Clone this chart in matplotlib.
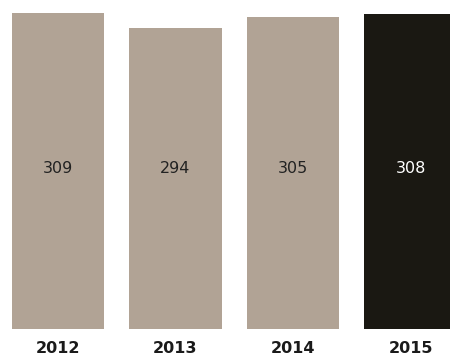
import matplotlib
matplotlib.use('Agg')
import matplotlib.pyplot as plt
import numpy as np

years = ['2012', '2013', '2014', '2015']
values = [309, 294, 305, 308]
colors = ['#b1a395', '#b1a395', '#b1a395', '#1a1812']
text_colors = ['#222222', '#222222', '#222222', '#ffffff']

fig = plt.figure(figsize=(4.5, 3.59), dpi=100)
ax = fig.add_axes([0, 30 / 359, 1, 329 / 359])

x = np.arange(len(years))
bars = ax.bar(x, values, width=0.783, color=colors, edgecolor='none')

ax.set_xlim(-58 / 117.5, (450 - 58) / 117.5)
ax.set_ylim(0, 321.7)
ax.axis('off')

# value labels, all on one line across the bars
for xi, v, tc in zip(x, values, text_colors):
    ax.text(xi, 157, str(v), ha='center', va='center', fontsize=11.5, color=tc)

# year labels under the bars
for xi, yr in zip(x, years):
    ax.text(xi, -19.5, yr, ha='center', va='center', fontsize=11.5,
            fontweight='bold', color='#1a1a1a', clip_on=False)

fig.savefig('out.png', dpi=100)
